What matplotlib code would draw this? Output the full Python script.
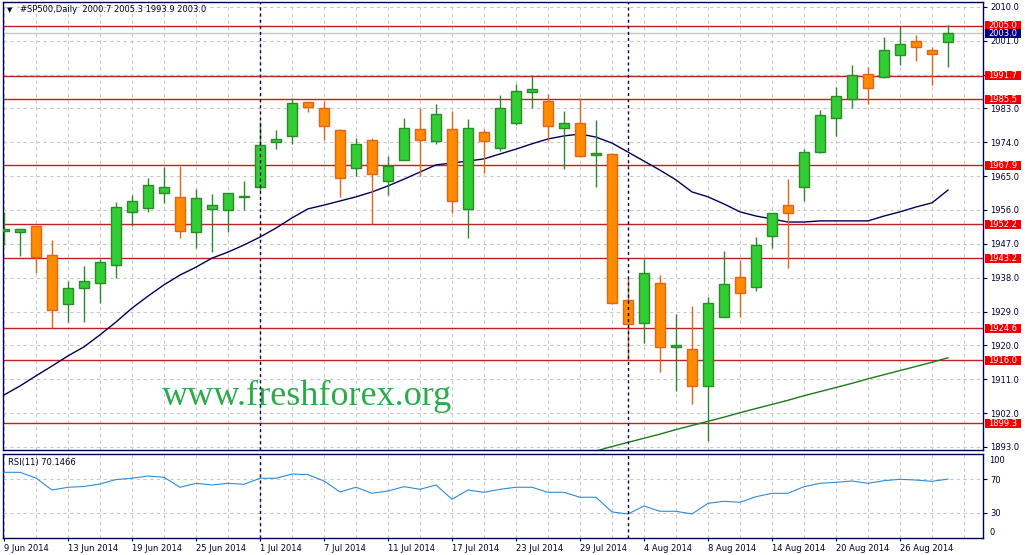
import matplotlib
matplotlib.use("Agg")
import matplotlib.pyplot as plt
from matplotlib.patches import Rectangle
from matplotlib import transforms

# daily bars #SP500, 9 Jun 2014 .. 29 Aug 2014
opens = [1950.4, 1950.1, 1951.7, 1944.0, 1930.9, 1935.3, 1936.5, 1941.3, 1955.5, 1956.6,
         1960.4, 1959.5, 1950.2, 1956.2, 1955.9, 1959.4, 1962.0, 1974.0, 1975.6, 1984.6,
         1983.0, 1977.2, 1967.1, 1974.5, 1963.6, 1969.4, 1977.5, 1974.3, 1977.5, 1956.2,
         1976.7, 1972.4, 1979.1, 1987.3, 1985.0, 1977.8, 1979.1, 1970.6, 1971.0, 1932.1,
         1925.9, 1936.5, 1919.5, 1919.0, 1909.3, 1927.6, 1938.1, 1935.6, 1949.0, 1957.3,
         1962.2, 1971.3, 1980.4, 1985.4, 1992.1, 1991.5, 1997.1, 2000.9, 1998.5, 2000.7]
highs = [1955.5, 1951.0, 1951.8, 1948.0, 1937.2, 1941.1, 1943.0, 1958.0, 1960.0, 1964.6,
         1967.4, 1967.8, 1961.5, 1960.2, 1960.5, 1963.7, 1979.5, 1977.3, 1985.7, 1984.8,
         1985.0, 1977.5, 1975.1, 1975.1, 1970.3, 1980.4, 1983.0, 1984.2, 1982.3, 1980.2,
         1977.5, 1986.6, 1989.5, 1991.9, 1986.9, 1982.3, 1985.7, 1979.9, 1971.2, 1938.0,
         1943.0, 1938.7, 1928.3, 1930.5, 1932.8, 1945.1, 1942.7, 1948.9, 1955.2, 1964.2,
         1972.1, 1982.7, 1988.8, 1994.6, 1994.1, 2002.0, 2005.0, 2002.5, 1999.4, 2005.3]
lows = [1946.7, 1943.8, 1939.2, 1924.7, 1926.3, 1926.3, 1931.3, 1937.8, 1951.7, 1955.5,
        1957.9, 1948.5, 1945.8, 1944.9, 1950.2, 1956.0, 1961.3, 1972.1, 1973.5, 1982.0,
        1974.6, 1959.5, 1965.1, 1952.2, 1960.0, 1969.3, 1965.1, 1973.5, 1955.3, 1948.6,
        1965.8, 1971.8, 1978.6, 1983.0, 1974.4, 1966.8, 1970.2, 1962.2, 1931.0, 1916.1,
        1920.5, 1913.0, 1907.9, 1904.3, 1894.6, 1927.5, 1927.6, 1934.5, 1945.8, 1940.7,
        1958.5, 1971.2, 1975.7, 1983.2, 1984.2, 1991.2, 1994.6, 1995.6, 1989.3, 1993.9]
closes = [1950.6, 1950.9, 1943.6, 1929.3, 1935.2, 1937.1, 1942.1, 1956.7, 1958.4, 1962.6,
          1962.0, 1950.3, 1959.1, 1957.2, 1960.4, 1959.6, 1973.2, 1974.8, 1984.4, 1983.3,
          1978.3, 1964.4, 1973.5, 1965.5, 1967.8, 1977.7, 1974.5, 1981.5, 1958.3, 1977.7,
          1974.3, 1983.0, 1987.6, 1988.1, 1978.4, 1979.1, 1970.4, 1971.1, 1931.2, 1925.6,
          1939.2, 1919.5, 1920.0, 1909.2, 1931.2, 1936.2, 1933.9, 1946.6, 1955.1, 1955.1,
          1971.3, 1981.2, 1986.2, 1991.8, 1988.4, 1998.6, 2000.2, 1999.3, 1997.4, 2003.0]

ma_fast = [1906.8, 1909.2, 1911.9, 1914.5, 1917.2, 1919.6, 1922.8, 1926.2, 1929.9, 1933.1,
           1936.1, 1938.7, 1940.8, 1943.2, 1944.8, 1946.7, 1948.8, 1951.2, 1953.9, 1956.3,
           1957.3, 1958.4, 1959.5, 1960.8, 1962.4, 1964.2, 1966.1, 1968.0, 1968.5, 1969.0,
           1969.6, 1970.9, 1972.2, 1973.6, 1974.9, 1975.7, 1976.2, 1975.4, 1973.8, 1971.4,
           1969.0, 1966.6, 1964.0, 1960.8, 1959.5, 1957.6, 1955.5, 1954.4, 1953.6, 1952.8,
           1952.8, 1953.1, 1953.1, 1953.1, 1953.1, 1954.4, 1955.5, 1956.8, 1957.9, 1961.3]
ma_slow_start = 36
ma_slow = [1890.8, 1891.9, 1893.1, 1894.2, 1895.3, 1896.4, 1897.6, 1898.7, 1899.8, 1900.9,
           1902.1, 1903.2, 1904.3, 1905.4, 1906.6, 1907.7, 1908.8, 1909.9, 1911.1, 1912.2,
           1913.3, 1914.4, 1915.5, 1916.7]

rsi = [78.2, 78.2, 71.4, 57.1, 60.4, 61.3, 64.3, 69.6, 71.1, 73.8,
       72.3, 60.4, 65.1, 63.1, 65.1, 63.9, 71.1, 71.1, 76.2, 75.4,
       67.9, 54.8, 60.4, 53.2, 56.0, 61.1, 58.0, 63.1, 46.1, 57.1,
       54.4, 58.0, 60.4, 60.4, 54.4, 54.4, 48.5, 48.5, 31.0, 28.6,
       38.1, 31.8, 31.8, 28.6, 41.3, 43.7, 42.5, 49.2, 53.2, 53.2,
       61.1, 65.1, 66.3, 67.9, 65.1, 68.2, 69.9, 69.0, 67.5, 70.1466]

levels = [2005.0, 1991.7, 1985.5, 1967.9, 1952.2, 1943.2, 1924.6, 1916.0, 1899.3]
bid = 2003.0

date_pos = [0, 4, 8, 12, 16, 20, 24, 28, 32, 36, 40, 44, 48, 52, 56]
date_labels = ["9 Jun 2014", "13 Jun 2014", "19 Jun 2014", "25 Jun 2014", "1 Jul 2014",
               "7 Jul 2014", "11 Jul 2014", "17 Jul 2014", "23 Jul 2014", "29 Jul 2014",
               "4 Aug 2014", "8 Aug 2014", "14 Aug 2014", "20 Aug 2014", "26 Aug 2014"]
month_seps = [16, 39]
price_ticks = [1893.0 + 9 * k for k in range(14)]

W, H = 1025, 555
NAVY = "#000050"
TXT = "#000030"
GRID = "#c8c8c8"


def frame(x0, y0, x1, y1):
    return [x0 / W, 1 - y1 / H, (x1 - x0) / W, (y1 - y0) / H]


fig = plt.figure(figsize=(W / 100, H / 100), dpi=100)
fig.patch.set_facecolor("white")
ax = fig.add_axes(frame(3, 1.5, 983, 450))
ax2 = fig.add_axes(frame(3, 454, 983, 538))

n = len(closes)
xmin, xmax = (3 - 4) / 16, (983 - 4) / 16
for a in (ax, ax2):
    a.set_xlim(xmin, xmax)
    for s in a.spines.values():
        s.set_color(NAVY)
        s.set_linewidth(1)
    for i in range(0, n + 2, 2):
        a.axvline(i, color=GRID, ls=(0, (3, 3)), lw=0.8, zorder=1)
    for i in month_seps:
        a.axvline(i, color="#000060", ls=(0, (2.2, 2.2)), lw=1, zorder=6)

ax.set_ylim(1892.17, 2011.45)
for p in price_ticks:
    ax.axhline(p, color=GRID, ls=(0, (3, 3)), lw=0.8, zorder=1)
for lv in levels:
    ax.axhline(lv, color="#c41e1e", lw=1, zorder=2)
ax.axhline(bid, color="#c8c8c8", lw=1, zorder=1.5)

# moving averages
ax.plot(range(n), ma_fast, color="#00005a", lw=1, zorder=2.5)
ax.plot(range(ma_slow_start, ma_slow_start + len(ma_slow)), ma_slow,
        color="#1a7a1a", lw=1, zorder=2.5)

# candles
for i in range(n):
    o, h, l, c = opens[i], highs[i], lows[i], closes[i]
    up = c >= o
    fc = "#32cd32" if up else "#ff8c00"
    ec = "#2a8a2a" if up else "#e0641a"
    ax.vlines(i, l, h, color=ec, lw=1, zorder=3)
    lo, hi = min(o, c), max(o, c)
    ax.add_patch(Rectangle((i - 0.32, lo), 0.64, max(hi - lo, 0.45),
                           fc=fc, ec=ec, lw=1, zorder=4))

ax.tick_params(axis="x", bottom=False, labelbottom=False)
ax.yaxis.tick_right()
ax.set_yticks(price_ticks)
ax.set_yticklabels([f"{p:.1f}" for p in price_ticks])
ax.tick_params(axis="y", length=3, pad=2, labelsize=6, colors=NAVY, labelcolor=TXT)

# level labels on the price scale
blend = transforms.blended_transform_factory(ax.transAxes, ax.transData)
bx0, bw, bh = (985 - 3) / 980, 36 / 980, 9 / 3.76
tx = (1003 - 3) / 980
for lv in levels:
    ax.add_patch(Rectangle((bx0, lv - bh / 2), bw, bh, transform=blend,
                           fc="#f00000", ec="none", clip_on=False, zorder=10))
    ax.text(tx, lv, f"{lv:.1f}", transform=blend, ha="center", va="center",
            fontsize=6, color="white", clip_on=False, zorder=11)
ax.add_patch(Rectangle((bx0, bid - bh / 2), bw, bh, transform=blend,
                       fc="#000080", ec="none", clip_on=False, zorder=12))
ax.text(tx, bid, f"{bid:.1f}", transform=blend, ha="center", va="center",
        fontsize=6, color="white", clip_on=False, zorder=13)

# RSI panel
ax2.set_ylim(0, 100)
for lv in (70, 30):
    ax2.axhline(lv, color=GRID, ls=(0, (3, 3)), lw=0.8, zorder=1)
ax2.plot(range(n), rsi, color="#2e8bd8", lw=0.8, zorder=3)
ax2.yaxis.tick_right()
ax2.set_yticks([70, 30])
ax2.set_yticklabels(["70", "30"])
ax2.tick_params(axis="y", length=3, pad=2, labelsize=6, colors=NAVY, labelcolor=TXT)
ax2.text(1.0062, 91.7, "100", transform=transforms.blended_transform_factory(ax2.transAxes, ax2.transData),
         ha="left", va="center", fontsize=6, color=TXT, clip_on=False)
ax2.text(1.0062, 7.1, "0", transform=transforms.blended_transform_factory(ax2.transAxes, ax2.transData),
         ha="left", va="center", fontsize=6, color=TXT, clip_on=False)
ax2.set_xticks(date_pos)
ax2.set_xticklabels(date_labels)
ax2.tick_params(axis="x", length=2, pad=2, labelsize=6, colors=NAVY, labelcolor=TXT)
for lab in ax2.get_xticklabels():
    lab.set_ha("left")

# texts
fig.text(7 / W, 1 - 10 / H, "\u25bc", fontsize=5, color=TXT, va="center")
fig.text(20 / W, 1 - 10 / H, "#SP500,Daily  2000.7 2005.3 1993.9 2003.0",
         fontsize=6, color=TXT, va="center")
fig.text(8 / W, 1 - 463 / H, "RSI(11) 70.1466", fontsize=6, color=TXT, va="center")
ax.text(162 / W, 1 - 405 / H, "www.freshforex.org", transform=fig.transFigure,
        family="Liberation Serif", fontsize=26, color="#2daa4b", va="baseline",
        clip_on=False, zorder=1.2)

fig.savefig("out.png", dpi=100)
